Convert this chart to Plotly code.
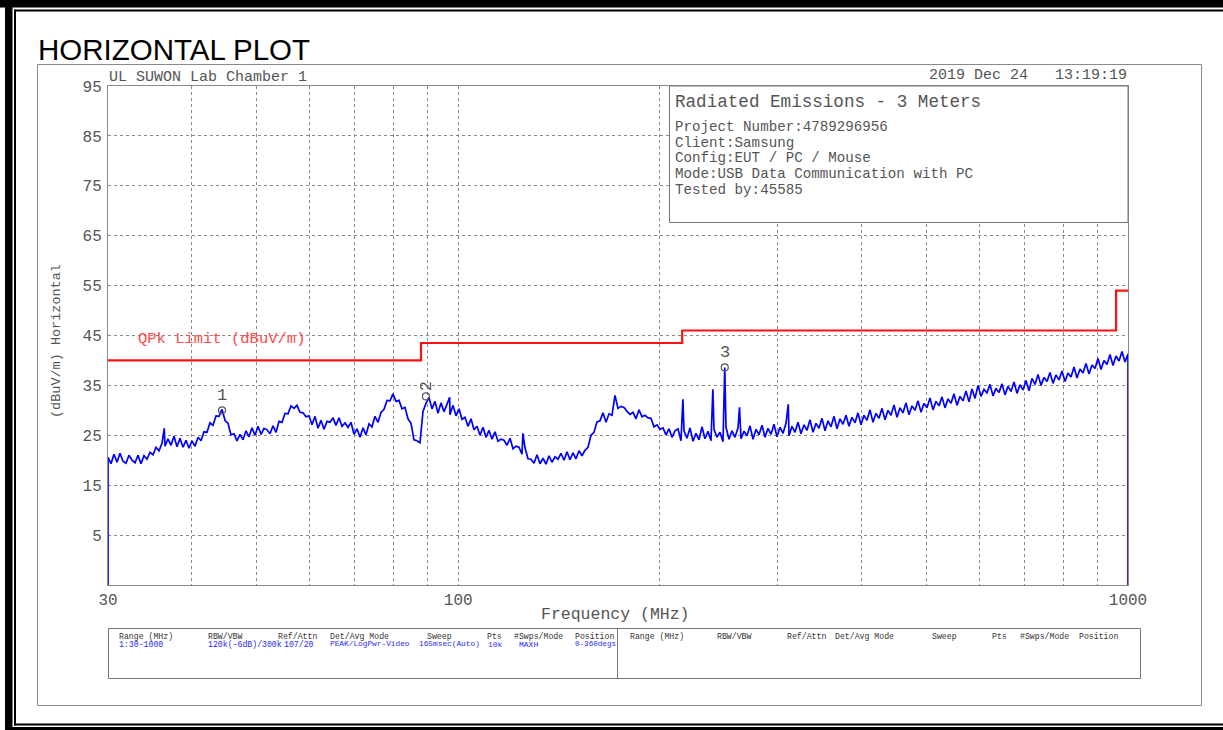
import numpy as np
import plotly.graph_objects as go

# ---------------- data ----------------
f_start, f_stop = 30, 1000
y_min, y_max = -5, 95
y_ticks = [5, 15, 25, 35, 45, 55, 65, 75, 85, 95]
x_ticks = [30, 100, 1000]
x_minor = [40, 50, 60, 70, 80, 90, 200, 300, 400, 500, 600, 700, 800, 900]

# QPk limit (step line): band start frequencies and levels
limit_freq = [30, 88, 216, 960, 1000]
limit_level = [40, 43.5, 46, 54, 54]

trace_floor = -10
sweep_level = [
    20.6, 19.3, 21.2, 19.6, 21.4, 19.8, 19.4, 21.0, 20.0, 19.5,
    21.0, 19.3, 20.9, 20.2, 21.6, 21.1, 22.6, 21.9, 23.4, 22.8,
    24.3, 23.0, 24.8, 22.7, 24.4, 22.6, 24.0, 22.4, 23.9, 22.8,
    24.6, 23.9, 25.7, 25.6, 27.5, 27.0, 28.9, 28.8, 30.2, 28.0,
    27.4, 25.1, 25.3, 23.9, 25.2, 24.1, 25.9, 24.7, 26.5, 25.0,
    26.8, 25.2, 26.4, 26.1, 25.3, 26.9, 25.6, 27.8, 27.6, 29.4,
    29.3, 30.9, 30.4, 31.0, 29.6, 29.5, 28.7, 28.9, 27.1, 28.8,
    26.4, 28.0, 26.2, 27.8, 27.6, 28.5, 27.0, 28.5, 26.8, 27.5,
    26.6, 27.6, 25.2, 26.3, 24.6, 26.5, 25.1, 27.3, 26.7, 28.8,
    27.6, 29.6, 30.2, 32.0, 31.9, 33.3, 31.8, 32.0, 30.3, 30.6,
    28.3, 27.4, 24.1, 23.9, 23.5, 29.8, 31.4, 32.6, 30.3, 31.8,
    29.4, 31.5, 29.7, 31.2, 29.1, 31.0, 28.9, 30.3, 28.2, 28.6,
    26.8, 28.3, 26.1, 26.8, 25.0, 26.6, 24.6, 26.0, 24.2, 25.7,
    23.8, 24.2, 24.0, 23.0, 24.4, 22.3, 22.8, 22.6, 21.2, 22.5,
    20.3, 20.2, 19.4, 21.1, 19.3, 20.4, 19.2, 20.9, 19.6, 20.7,
    20.2, 21.4, 20.0, 21.7, 20.1, 21.5, 20.3, 21.9, 20.9, 22.0,
    22.6, 25.0, 25.6, 27.7, 27.9, 29.5, 27.6, 29.3, 29.0, 33.0,
    30.4, 30.8, 30.6, 29.8, 29.2, 29.6, 28.3, 30.1, 28.7, 29.0,
    28.5, 28.4, 26.7, 27.1, 26.2, 26.5, 25.1, 26.3, 24.6, 25.9,
    26.3, 23.9, 25.9, 24.4, 26.5, 23.8, 25.4, 24.1, 26.7, 24.3,
    25.8, 23.9, 26.2, 24.6, 25.6, 23.7, 26.6, 24.2, 25.9, 24.6,
    26.5, 24.3, 25.8, 24.9, 26.9, 24.2, 26.2, 25.1, 27.0, 24.6,
    26.4, 25.2, 27.2, 24.7, 26.6, 25.4, 27.4, 24.9, 26.8, 25.6,
    27.6, 25.3, 27.1, 26.0, 28.1, 25.6, 27.4, 26.4, 28.4, 25.9,
    27.9, 26.7, 28.8, 26.3, 28.3, 27.2, 29.0, 26.8, 28.6, 27.5,
    29.5, 27.1, 29.0, 28.0, 30.1, 27.6, 29.4, 28.4, 30.4, 28.1,
    30.0, 29.0, 31.1, 28.6, 30.5, 29.5, 31.5, 29.1, 30.9, 30.0,
    31.9, 29.6, 31.4, 30.5, 32.5, 30.1, 31.8, 30.9, 32.7, 30.5,
    32.3, 31.4, 33.3, 31.0, 32.8, 31.9, 33.9, 31.7, 34.3, 32.4,
    35.0, 32.8, 34.2, 33.5, 35.2, 32.9, 34.4, 33.6, 35.3, 33.1,
    34.8, 33.8, 35.7, 33.4, 35.1, 34.1, 36.0, 33.9, 36.4, 35.2,
    37.2, 35.0, 36.6, 35.8, 37.6, 35.4, 37.1, 36.1, 37.9, 35.8,
    37.5, 36.7, 38.7, 36.5, 38.3, 37.5, 39.4, 37.3, 39.1, 38.4,
    40.4, 38.2, 40.0, 39.2, 41.2, 39.0, 40.9, 39.9, 41.8, 39.7,
    41.3,
]
# narrow emission spikes
spike_freq = [36.4, 97.1, 124.9, 216.5, 240.0, 250.0, 263.0, 311.0]
spike_level = [26.4, 32.6, 25.4, 32.2, 34.2, 38.6, 30.6, 31.2]

# markers
marker_freq = [44.4, 89.5, 250.0]
marker_level = [30.0, 32.8, 38.6]
marker_label = ["1", "2", "3"]

# texts
title_text = "HORIZONTAL PLOT"
header_left = "UL SUWON Lab Chamber 1"
header_right = "2019 Dec 24   13:19:19"
info_title = "Radiated Emissions - 3 Meters"
info_lines = ["Project Number:4789296956", "Client:Samsung", "Config:EUT / PC / Mouse",
              "Mode:USB Data Communication with PC", "Tested by:45585"]
table_headers = ["Range (MHz)", "RBW/VBW", "Ref/Attn", "Det/Avg Mode", "Sweep", "Pts", "#Swps/Mode", "Position"]
table_values = ["1:30-1000", "120k(-6dB)/300k", "107/20", "PEAK/LogPwr-Video", "165msec(Auto)", "10k", "MAXH", "0-360degs"]

# ---------------- build ----------------
sweep_freq = np.geomspace(f_start, f_stop, len(sweep_level))
fx = list(sweep_freq) + spike_freq
fy = list(sweep_level) + spike_level
order = np.argsort(fx, kind="stable")
fx = [f_start] + [fx[i] for i in order] + [f_stop]
fy = [trace_floor] + [fy[i] for i in order] + [trace_floor]

W, H = 1223, 730
L, R, T, B = 108, 1128, 86, 585


def px(x):
    return (x - L) / (R - L)


def py(y):
    return (B - y) / (B - T)


MONO = "Liberation Mono"
GRAY = "#555555"

fig = go.Figure()
fig.add_trace(go.Scatter(x=limit_freq, y=limit_level, mode="lines", line_shape="hv",
                         line=dict(color="#ff1010", width=2.2), hoverinfo="skip", showlegend=False))
fig.add_trace(go.Scatter(x=fx, y=fy, mode="lines", line=dict(color="#0000ff", width=1.7),
                         showlegend=False))
fig.add_trace(go.Scatter(x=marker_freq, y=marker_level, mode="markers",
                         marker=dict(symbol="circle-open", size=7, color=GRAY, line=dict(width=1.2)),
                         showlegend=False))

annotations = []
for f, lv, lab in zip(marker_freq, marker_level, marker_label):
    rot = lab == "2"
    annotations.append(dict(x=np.log10(f), y=lv, xref="x", yref="y", text=lab, showarrow=False,
                            textangle=-90 if rot else 0, yanchor="bottom",
                            yshift=3, font=dict(family=MONO, size=17, color=GRAY)))


def txt(x, y, s, size, color=GRAY, xanchor="left", yanchor="middle", family=MONO, angle=0):
    annotations.append(dict(x=px(x), y=py(y), xref="paper", yref="paper", text=s, showarrow=False,
                            xanchor=xanchor, yanchor=yanchor, textangle=angle,
                            font=dict(family=family, size=size, color=color)))


txt(36, 49, title_text, 29.5, color="#000000", family="Liberation Sans")
txt(107, 77, header_left, 15)
txt(1129, 76, header_right, 15, xanchor="right")
txt(673, 102, info_title, 17.6)
for i, s in enumerate(info_lines):
    txt(673, 127 + i * 15.7, s, 14.2)
txt(136, 339, "QPk Limit (dBuV/m)", 15.5, color="#ff4a4a")
txt(615, 614, "Frequency (MHz)", 16.5, xanchor="center")
txt(56, 341, "(dBuV/m) Horizontal", 13.5, xanchor="center", angle=-90)

hdr_x1 = [117, 206, 276, 328, 425, 485, 512, 573]
hdr_x2 = [628, 715, 785, 833, 930, 990, 1018, 1077]
val_x = [117, 206, 282, 328, 417, 486, 517, 573]
val_size = [8.2, 8.2, 8.2, 7.8, 7.8, 8.0, 8.0, 7.6]
for s, a, b in zip(table_headers, hdr_x1, hdr_x2):
    txt(a, 636, s, 8.2, color="#333333")
    txt(b, 636, s, 8.2, color="#333333")
for s, a, sz in zip(table_values, val_x, val_size):
    txt(a, 644, s, sz, color="#2a2aff")

shapes = []


def rect(x0, y0, x1, y1, fill=None, line_color=None, lw=1):
    shapes.append(dict(type="rect", xref="paper", yref="paper", x0=px(x0), x1=px(x1), y0=py(y0), y1=py(y1),
                       fillcolor=fill if fill else "rgba(0,0,0,0)",
                       line=dict(color=line_color if line_color else "rgba(0,0,0,0)", width=lw),
                       layer="above"))


def line(x0, y0, x1, y1, color, lw=1):
    shapes.append(dict(type="line", xref="paper", yref="paper", x0=px(x0), x1=px(x1), y0=py(y0), y1=py(y1),
                       line=dict(color=color, width=lw), layer="above"))


# outer black double border
rect(0, 0, W, 7.5, fill="#000000")
rect(5, 0, 12.5, H, fill="#000000")
rect(5, 727, W, H, fill="#000000")
rect(14, 9.5, W, 11.5, fill="#000000")
rect(14, 9.5, 16, 725.5, fill="#000000")
rect(14, 723.5, W, 725.5, fill="#000000")
# gray frame
rect(37.5, 64.5, 1201.5, 705.5, line_color="#8a8a8a")
# info box
shapes.append(dict(type="rect", xref="paper", yref="paper", x0=px(669.5), x1=px(1128), y0=py(222.5), y1=py(86),
                   fillcolor="#ffffff", line=dict(color="#777777", width=1), layer="above"))
# table box
rect(108.5, 628.5, 1140.5, 678.5, line_color="#777777")
line(617.5, 628.5, 617.5, 678.5, "#777777")

axis_common = dict(showline=True, mirror=True, linecolor="#8a8a8a", linewidth=1, zeroline=False,
                   ticks="", tickfont=dict(family=MONO, size=16, color=GRAY),
                   gridcolor="#8a8a8a", griddash="dot", gridwidth=1)

fig.update_layout(
    width=W, height=H,
    margin=dict(l=L, r=W - R, t=T, b=H - B, pad=0),
    paper_bgcolor="#ffffff", plot_bgcolor="#ffffff",
    xaxis=dict(type="log", range=[np.log10(f_start), np.log10(f_stop)], tickvals=x_ticks,
               ticktext=[str(v) for v in x_ticks], showgrid=True,
               minor=dict(tickvals=x_minor, showgrid=True, gridcolor="#8a8a8a", griddash="dot", ticks=""),
               **axis_common),
    yaxis=dict(range=[y_min, y_max], tickvals=y_ticks, showgrid=True, ticklabelstandoff=2, **axis_common),
    annotations=annotations, shapes=shapes, showlegend=False,
)

fig.write_html("out.html", config={"displayModeBar": False},
               post_script="document.body.style.margin='0';document.body.style.overflow='hidden';")
